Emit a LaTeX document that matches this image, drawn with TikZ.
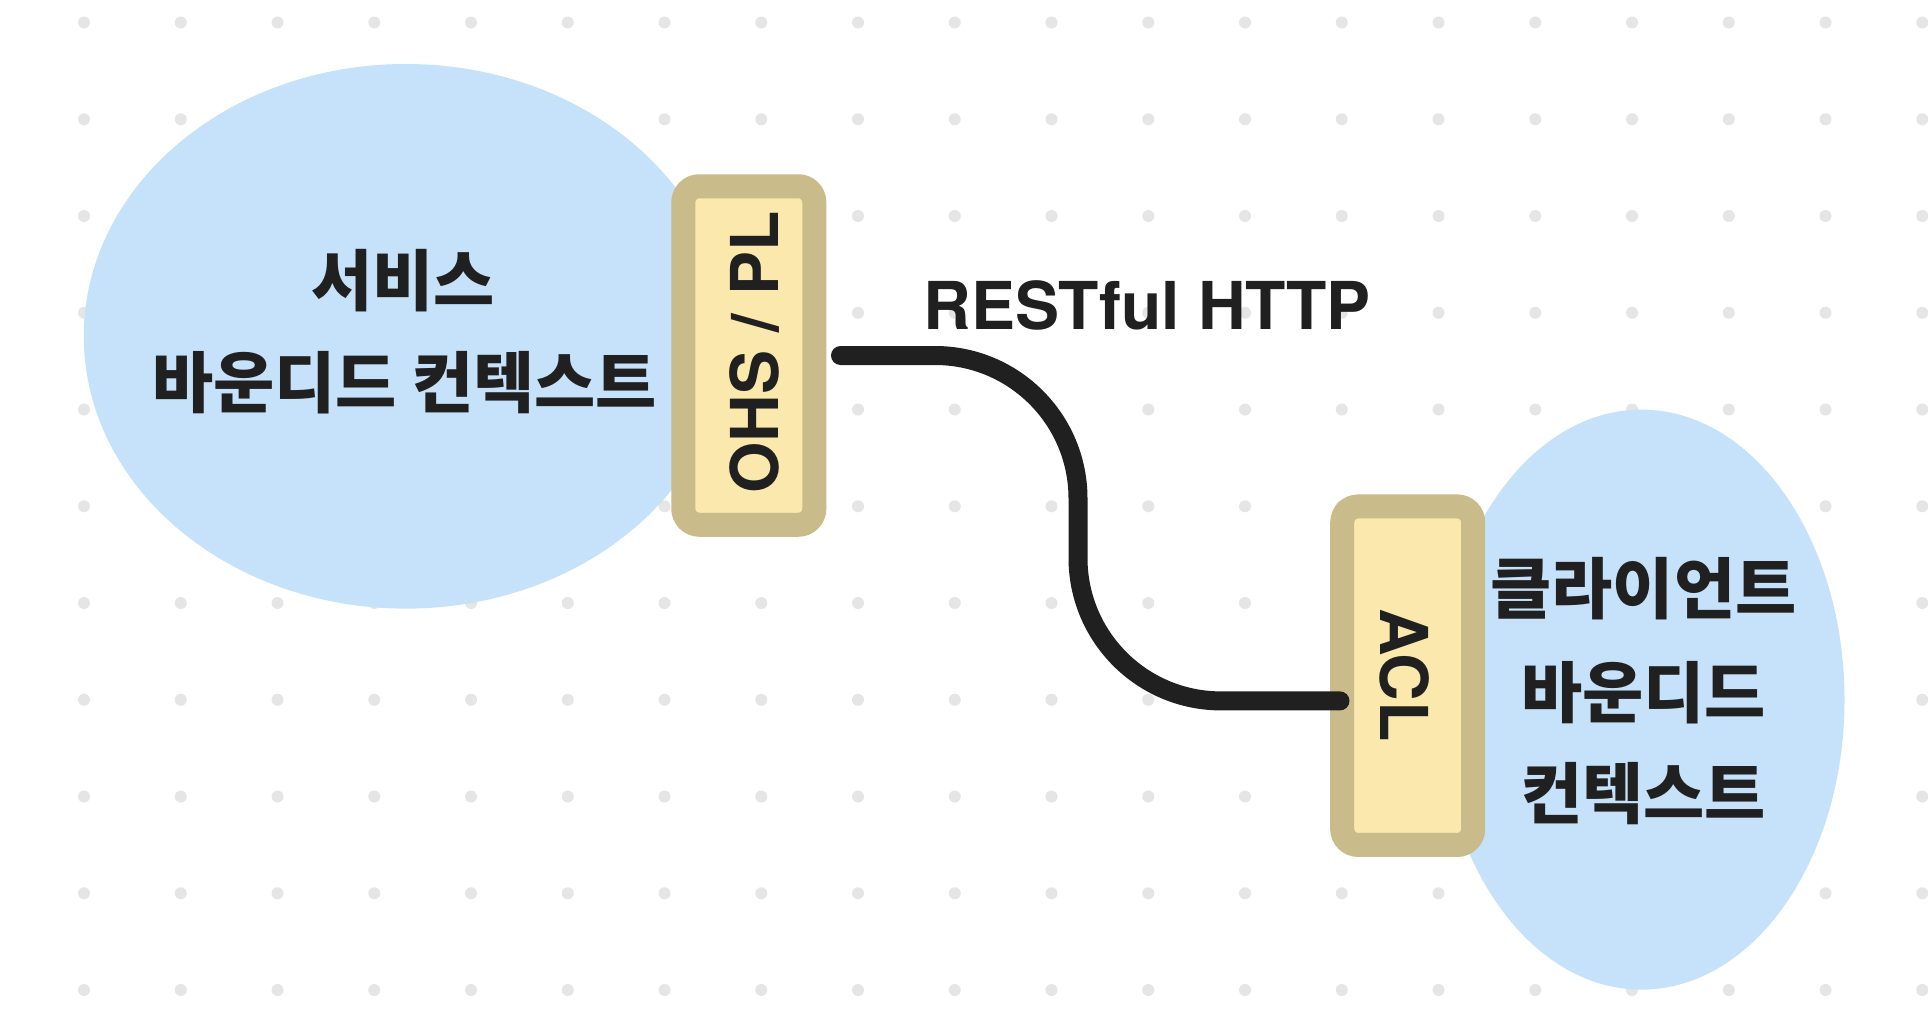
\documentclass[tikz,border=0pt]{standalone}
\usepackage{fontspec}
\setmainfont{TeX Gyre Heros}
\newfontfamily\krfont{Noto Sans CJK KR}
\usetikzlibrary{calc,shapes.geometric}
\definecolor{dotc}{RGB}{229,229,229}
\definecolor{blobc}{RGB}{197,226,250}
\definecolor{tanc}{RGB}{201,187,138}
\definecolor{yelc}{RGB}{250,232,172}
\definecolor{inkc}{RGB}{32,32,32}
\begin{document}
\begin{tikzpicture}[x=1pt,y=-1pt,
  blob/.style={ellipse, fill=blobc, draw=none, inner sep=0pt},
  gatebox/.style={rectangle, draw=tanc, fill=yelc, line width=24pt, rounded corners=16pt,
    minimum width=131pt, minimum height=338.5pt, inner sep=0pt},
  conn/.style={draw=inkc, line width=19pt, line cap=round, rounded corners=143pt},
  lat/.style={font=\bfseries\fontsize{66}{80}\selectfont, text=inkc, inner sep=0pt},
  kr/.style={font=\krfont\bfseries\fontsize{66.5}{80}\selectfont, text=inkc, inner sep=0pt}]
\useasboundingbox (0,0) rectangle (1928,1036);
\fill[white] (0,0) rectangle (1928,1036);
% dot grid
\foreach \i in {0,...,19}{
  \foreach \j in {0,...,10}{
    \fill[dotc] (84+96.75*\i, 22.5+96.75*\j) circle[radius=6pt];
  }
}
% bounded contexts
\node[blob, minimum width=644pt, minimum height=544.6pt] (svc) at (405.8,336.3) {};
\node[blob, minimum width=406pt, minimum height=580pt] (cli) at (1641.5,699.6) {};
% gateways
\node[gatebox] (ohs) at (748.8,355.5) {};
\node[gatebox] (acl) at (1407.7,675.7) {};
% connector
\coordinate (s) at ($(ohs.east)+(14.2,0)$);
\coordinate (e) at ($(acl.west)+(9.8,25.2)$);
\coordinate (m) at (1078,528);
\draw[conn] (s) -- (s -| m) -- (e -| m) -- (e);
% labels
\node[lat, anchor=base] (rest) at (1147,329) {RESTful HTTP};
\node[lat, rotate=90, anchor=base] (ohst) at (778,352.5) {OHS / PL};
\node[lat, rotate=-90, anchor=base] (aclt) at (1380,675) {ACL};
\node[kr, anchor=base] (svc1) at (403,305.5) {서비스};
\node[kr, anchor=base] (svc2) at (404.5,407.5) {바운디드 컨텍스트};
\node[kr, anchor=base] (cli1) at (1643.5,613.5) {클라이언트};
\node[kr, anchor=base] (cli2) at (1643.5,717) {바운디드};
\node[kr, anchor=base] (cli3) at (1643.5,818.5) {컨텍스트};
\end{tikzpicture}
\end{document}
